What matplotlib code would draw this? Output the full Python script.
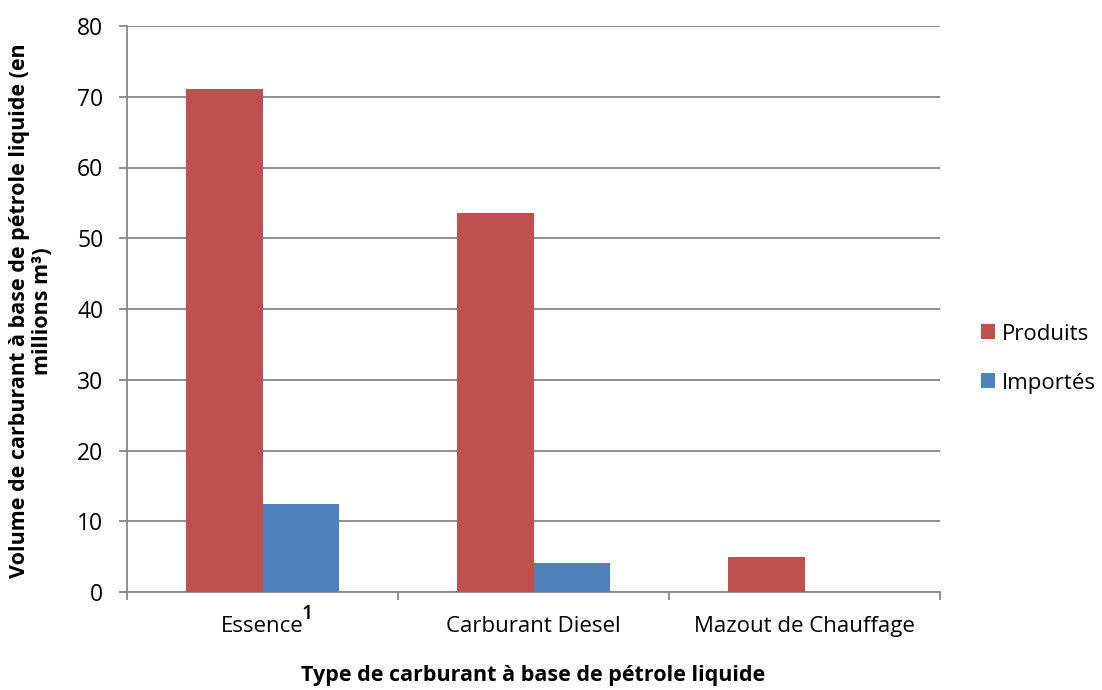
import matplotlib
matplotlib.use("Agg")
import matplotlib.pyplot as plt
import numpy as np

plt.rcParams['font.family'] = ['Open Sans', 'DejaVu Sans']

categories = ["Essence", "Carburant Diesel", "Mazout de Chauffage"]
footnote = "1"
produits = [71.1, 53.6, 4.9]
importes = [12.5, 4.1, 0.0]
series_names = ["Produits", "Importés"]
yticks = [0, 10, 20, 30, 40, 50, 60, 70, 80]

W, H = 1102, 690
fig = plt.figure(figsize=(W/100, H/100), dpi=100)
ax = fig.add_axes([127/W, 1-592/H, 813/W, 566/H])

x = np.arange(len(categories))
w = 0.284
ax.bar(x - w/2, produits, w, color="#C0504D", label=series_names[0], zorder=3)
ax.bar(x + w/2, importes, w, color="#4F81BD", label=series_names[1], zorder=3)

grey = "#878787"
ax.set_xlim(-0.5, len(categories) - 0.5)
ax.set_ylim(0, 80)
ax.set_yticks(yticks)
ax.set_yticklabels([str(v) for v in yticks], fontsize=16.5)
ax.yaxis.grid(True, color=grey, linewidth=1.3, zorder=0)
ax.set_axisbelow(True)

ax.set_xticks(x)
ax.set_xticklabels(categories, fontsize=16)
ax.tick_params(axis='x', length=0, pad=17)
ax.set_xticks(np.arange(len(categories) + 1) - 0.5, minor=True)
ax.tick_params(axis='x', which='minor', length=6, color=grey, width=1.3)
ax.tick_params(axis='y', length=6, color=grey, width=1.3, pad=11)

for s in ['top', 'right']:
    ax.spines[s].set_visible(False)
for s in ['left', 'bottom']:
    ax.spines[s].set_color(grey)
    ax.spines[s].set_linewidth(1.3)

fig.text(31/W, 1-311/H,
         "Volume de carburant à base de pétrole liquide (en\nmillions m³)",
         rotation=90, ha='center', va='center', fontsize=15.5,
         fontweight='bold', linespacing=1.15, multialignment='center')
fig.text(533/W, 1-681/H, "Type de carburant à base de pétrole liquide",
         ha='center', va='baseline', fontsize=15.5, fontweight='bold')

fig.legend(loc='center left', bbox_to_anchor=(981/W, 1-358.5/H),
           frameon=False, fontsize=16, handlelength=0.65, handleheight=0.65,
           handletextpad=0.3, labelspacing=1.26, borderaxespad=0, borderpad=0)

# footnote superscript after "Essence"
fig.canvas.draw()
renderer = fig.canvas.get_renderer()
lab = ax.get_xticklabels()[0]
bb = lab.get_window_extent(renderer)
fs = lab.get_fontsize() * 100 / 72.0
baseline = bb.y0 + 0.27 * fs
fig.text((bb.x1 - 2)/W, (baseline + 12)/H, footnote, ha='left', va='baseline',
         fontsize=14, fontweight='semibold')

fig.savefig("out.png", dpi=100)
